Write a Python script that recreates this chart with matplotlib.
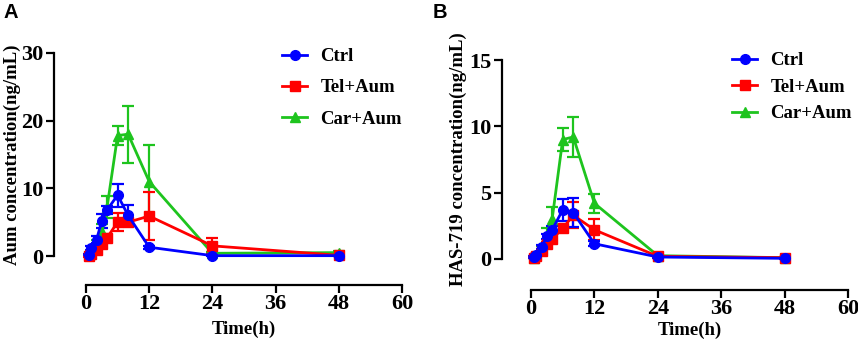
import matplotlib
matplotlib.use("Agg")
import matplotlib.pyplot as plt
from matplotlib.lines import Line2D

time_h = [0.5, 1, 2, 3, 4, 6, 8, 12, 24, 48]
series_names = ["Ctrl", "Tel+Aum", "Car+Aum"]

# Panel A: Aum concentration (ng/mL)
a_ctrl = [0.2, 1.2, 2.4, 5.2, 6.8, 9.0, 6.0, 1.3, 0.05, 0.05]
a_ctrl_err = [0.1, 0.3, 0.5, 1.0, 0.6, 1.7, 1.6, 0.2, 0.05, 0.05]
a_tel = [0.0, 0.3, 0.9, 1.8, 2.7, 5.0, 5.0, 5.9, 1.5, 0.1]
a_tel_err = [0.1, 0.2, 0.3, 0.4, 0.5, 1.3, 0.6, 3.5, 1.2, 0.1]
a_car = [0.1, 0.5, 1.8, 3.5, 7.2, 17.8, 18.0, 11.0, 0.4, 0.5]
a_car_err = [0.1, 0.2, 0.5, 1.2, 1.6, 1.4, 4.2, 5.4, 0.2, 0.2]

# Panel B: HAS-719 concentration (ng/mL)
b_ctrl = [0.15, 0.3, 0.9, 1.7, 2.2, 3.7, 3.5, 1.15, 0.15, 0.05]
b_ctrl_err = [0.05, 0.1, 0.15, 0.2, 0.3, 0.8, 1.1, 0.2, 0.05, 0.05]
b_tel = [0.1, 0.25, 0.6, 1.1, 1.5, 2.3, 3.3, 2.2, 0.2, 0.1]
b_tel_err = [0.05, 0.1, 0.1, 0.2, 0.2, 0.3, 1.0, 0.8, 0.1, 0.05]
b_car = [0.1, 0.3, 0.8, 1.8, 3.0, 9.0, 9.2, 4.2, 0.25, 0.1]
b_car_err = [0.05, 0.1, 0.2, 0.5, 0.9, 0.85, 1.5, 0.7, 0.1, 0.05]

x_ticks = [0, 12, 24, 36, 48, 60]
a_yticks = [0, 10, 20, 30]
b_yticks = [0, 5, 10, 15]

colors = {"Ctrl": "#0000FF", "Tel+Aum": "#FF0000", "Car+Aum": "#1EC41E"}
markers = {"Ctrl": "o", "Tel+Aum": "s", "Car+Aum": "^"}

W, H = 858, 341
fig = plt.figure(figsize=(W / 100, H / 100), dpi=100)
serif = "Liberation Serif"
FS = 13.5
TFS = 16


def px_axes(x0, x1, y_top, y_bot):
    return fig.add_axes([x0 / W, 1 - y_bot / H, (x1 - x0) / W, (y_bot - y_top) / H])


def draw_panel(ax, data, yticks, ylabel, yoff, xoff, ylab_x, xlab_y, legend_xy, lspacing):
    order = ["Car+Aum", "Tel+Aum", "Ctrl"]
    for name in order:
        y, e = data[name]
        ax.errorbar(time_h, y, yerr=e, color=colors[name], marker=markers[name],
                    markersize=7 if name != "Car+Aum" else 7.5, lw=2, elinewidth=1.6,
                    capsize=4, capthick=1.6, clip_on=False, zorder=3)
    ax.set_xlim(0, 60)
    ax.set_ylim(0, yticks[-1])
    ax.set_xticks(x_ticks)
    ax.set_yticks(yticks)
    for s in ["top", "right"]:
        ax.spines[s].set_visible(False)
    ax.spines["left"].set_position(("outward", yoff))
    ax.spines["bottom"].set_position(("outward", xoff))
    ax.spines["left"].set_bounds(0, yticks[-1])
    ax.spines["bottom"].set_bounds(0, 60)
    for s in ["left", "bottom"]:
        ax.spines[s].set_linewidth(1.6)
    ax.tick_params(width=1.6, length=5.5, labelsize=TFS)
    ax.tick_params(axis="x", pad=1)
    ax.tick_params(axis="y", pad=2)
    for t in ax.get_xticklabels() + ax.get_yticklabels():
        t.set_fontfamily(serif)
        t.set_fontweight("bold")
    bb = ax.get_position()
    ax.set_xlabel("Time(h)", fontfamily=serif, fontweight="bold", fontsize=FS, va="center")
    ax.xaxis.set_label_coords(0.5, (1 - xlab_y / H - bb.y0) / bb.height)
    ax.set_ylabel(ylabel, fontfamily=serif, fontweight="bold", fontsize=FS, va="center")
    ax.yaxis.set_label_coords((ylab_x / W - bb.x0) / bb.width, 0.5)
    handles = [Line2D([], [], color=colors[n], marker=markers[n], markersize=7, lw=2)
               for n in series_names]
    ax.legend(handles, series_names, loc="upper left",
              bbox_to_anchor=(legend_xy[0] / W, 1 - legend_xy[1] / H),
              bbox_transform=fig.transFigure, frameon=False,
              prop={"family": serif, "weight": "bold", "size": FS},
              handlelength=1.35, handletextpad=0.7, labelspacing=lspacing,
              borderpad=0, borderaxespad=0)


axA = px_axes(86, 402, 53, 256)
draw_panel(axA, {"Ctrl": (a_ctrl, a_ctrl_err), "Tel+Aum": (a_tel, a_tel_err),
                 "Car+Aum": (a_car, a_car_err)},
           a_yticks, "Aum concentration(ng/mL)", 23, 21, 12, 329, (282, 48), 0.75)

axB = px_axes(531, 848, 60, 259)
draw_panel(axB, {"Ctrl": (b_ctrl, b_ctrl_err), "Tel+Aum": (b_tel, b_tel_err),
                 "Car+Aum": (b_car, b_car_err)},
           b_yticks, "HAS-719 concentration(ng/mL)", 21, 22, 458, 330, (732, 52), 0.5)

fig.text(3 / W, 1 - 3 / H, "A", fontfamily="Liberation Sans", fontweight="bold",
         fontsize=14.5, ha="left", va="top")
fig.text(433 / W, 1 - 3 / H, "B", fontfamily="Liberation Sans", fontweight="bold",
         fontsize=14.5, ha="left", va="top")

fig.savefig("out.png", dpi=100)
